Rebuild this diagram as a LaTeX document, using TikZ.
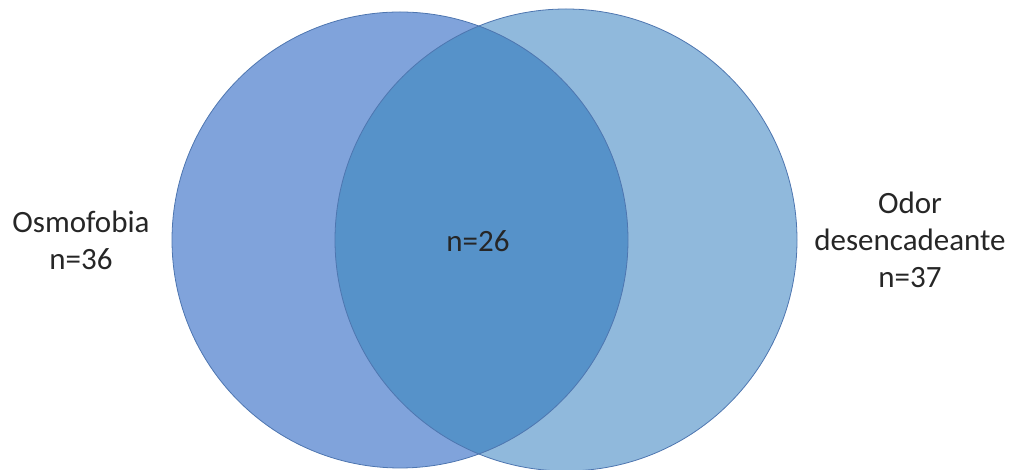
\documentclass[tikz,border=0pt]{standalone}
\usepackage{fontspec}
\setmainfont{Carlito}
\definecolor{osmoblue}{RGB}{128,163,219}
\definecolor{odorblue}{RGB}{144,185,220}
\definecolor{bothblue}{RGB}{86,146,201}
\definecolor{rimblue}{RGB}{78,118,176}
\tikzset{setfill/.style={draw=none},
        rim/.style={
            draw=rimblue,
            line width=0.8pt
        },
        setlabel/.style={
            align=center,
            font=\fontsize{31}{37}\selectfont,
            text=black!85,
            inner sep=0pt
        }
    }
\begin{document}
\begin{tikzpicture}[x=1pt,y=1pt]
        \useasboundingbox (0,0) rectangle (1013,470);
        \coordinate (osmo) at (400,230);
        \coordinate (odor) at (566,230);
        \fill[osmoblue] (osmo) circle (228);
        \fill[odorblue] (odor) circle (231);
        \begin{scope}
            \clip (osmo) circle (228);
            \fill[bothblue] (odor) circle (231);
        \end{scope}
        \draw[rim] (osmo) circle (228);
        \draw[rim] (odor) circle (231);
        \node[setlabel] (osmolabel) at (81,230) {Osmofobia\\n=36};
        \node[setlabel] (bothlabel) at (478,229) {n=26};
        \node[setlabel] (odorlabel) at (910,230) {Odor\\desencadeante\\n=37};
    \end{tikzpicture}
\end{document}
